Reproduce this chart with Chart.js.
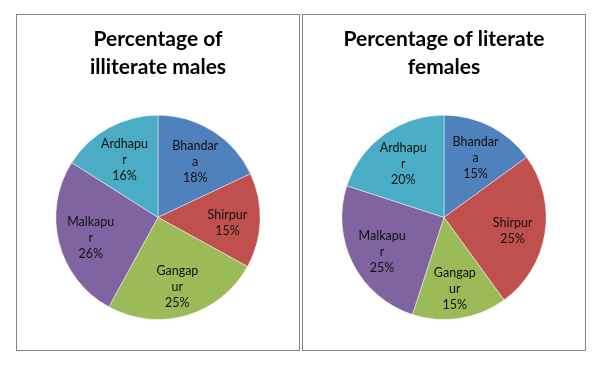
<!DOCTYPE html>
<html>
<head>
<meta charset="utf-8">
<script src="https://cdn.jsdelivr.net/npm/chart.js@4.4.1/dist/chart.umd.min.js"></script>
<style>
  html, body { margin: 0; padding: 0; background: #ffffff; }
  body { width: 603px; height: 367px; position: relative; overflow: hidden; }
  .box { position: absolute; top: 14px; width: 282px; height: 335px; border: 1px solid #868686; }
  #box1 { left: 16px; }
  #box2 { left: 302px; width: 282px; }
  canvas { display: block; }
</style>
</head>
<body>
<div class="box" id="box1"><canvas id="c1" width="282" height="335"></canvas></div>
<div class="box" id="box2"><canvas id="c2" width="282" height="335"></canvas></div>
<script>
// ---- data ----
const categories = ["Bhandara", "Shirpur", "Gangapur", "Malkapur", "Ardhapur"];
const labelLines = [["Bhandar", "a"], ["Shirpur"], ["Gangap", "ur"], ["Malkapu", "r"], ["Ardhapu", "r"]];
const illiterateMales = [18, 15, 25, 26, 16];
const literateFemales = [15, 25, 15, 25, 20];
const title1 = ["Percentage of", "illiterate males"];
const title2 = ["Percentage of literate", "females"];
const sliceColors = ["#4F81BD", "#C0504D", "#9BBB59", "#8064A2", "#4BACC6"];

const sliceLabelPlugin = {
  id: "sliceLabels",
  afterDatasetsDraw(chart) {
    const ctx = chart.ctx;
    const meta = chart.getDatasetMeta(0);
    const values = chart.data.datasets[0].data;
    ctx.save();
    ctx.font = "12.5px Lato";
    ctx.fillStyle = "#111111";
    ctx.textAlign = "center";
    ctx.textBaseline = "middle";
    meta.data.forEach((arc, i) => {
      const mid = (arc.startAngle + arc.endAngle) / 2;
      const r = arc.outerRadius * 0.68;
      const cx = arc.x + Math.cos(mid) * r;
      const cy = arc.y + Math.sin(mid) * r + 3;
      const lines = labelLines[i].concat([values[i] + "%"]);
      const lh = 16;
      const y0 = cy - (lines.length - 1) * lh / 2;
      lines.forEach((t, k) => ctx.fillText(t, cx, y0 + k * lh));
    });
    ctx.restore();
  }
};

function makePie(id, values, titleLines) {
  return new Chart(document.getElementById(id), {
    type: "pie",
    data: {
      labels: categories,
      datasets: [{
        data: values,
        backgroundColor: sliceColors,
        borderColor: "rgba(255,255,255,0.45)",
        borderWidth: 1
      }]
    },
    options: {
      responsive: false,
      animation: false,
      devicePixelRatio: 1,
      layout: { padding: { top: 0, bottom: 30, left: 0, right: 0 } },
      plugins: {
        legend: { display: false },
        tooltip: { enabled: false },
        title: {
          display: true,
          text: titleLines,
          color: "#000000",
          font: { family: "Lato", size: 21, weight: "bold", lineHeight: 1.35 },
          padding: { top: 10, bottom: 33 }
        }
      }
    },
    plugins: [sliceLabelPlugin]
  });
}

makePie("c1", illiterateMales, title1);
makePie("c2", literateFemales, title2);
</script>
</body>
</html>
